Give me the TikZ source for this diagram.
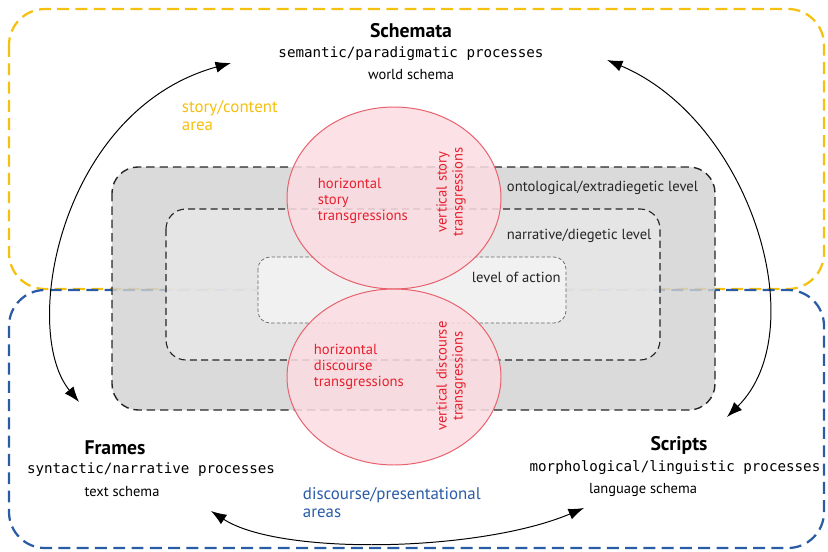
\documentclass[tikz,border=0pt]{standalone}
\usepackage{fontspec}
\setmainfont{PT Sans}
\setmonofont{DejaVu Sans Mono}
\usetikzlibrary{arrows.meta,positioning}

\definecolor{storyyellow}{HTML}{F5C010}
\definecolor{discblue}{HTML}{2A5CA6}
\definecolor{transred}{HTML}{E8202E}
\definecolor{bubbleedge}{HTML}{E8606C}
\definecolor{bubblefill}{HTML}{FCDDE2}

\tikzset{
  area/.style={line width=1.6pt, dash pattern=on 8.5pt off 4.5pt, rounded corners=0.9cm},
  level/.style={draw=black!85, fill opacity=0.8, rounded corners=#1},
  bubble/.style={draw=bubbleedge, fill=bubblefill, fill opacity=0.85, line width=0.7pt},
  trans/.style={text=transred, font=\fontsize{10.4}{11.4}\selectfont, align=left},
  lbl/.style={text=black!85, font=\fontsize{10.4}{11}\selectfont},
  arealbl/.style={font=\fontsize{12}{12.8}\selectfont, align=left, anchor=west},
  head/.style={font=\bfseries\fontsize{14}{16}\selectfont},
  proc/.style={font=\ttfamily\fontsize{10.1}{12}\selectfont},
  sub/.style={font=\fontsize{10.3}{12}\selectfont},
  link/.style={black, line width=0.7pt, {Latex[length=11pt,width=8pt]}-{Latex[length=11pt,width=8pt]}},
}

\begin{document}
\begin{tikzpicture}[x=0.025cm, y=-0.025cm]
    \useasboundingbox (0,0) rectangle (828,552);

    % the two areas
    \draw[area, storyyellow] (9,9) rectangle (824,289);
    \draw[area, discblue]    (9,290) rectangle (824,548);

    % nested levels
    \draw[level=0.65cm, fill=black!18, line width=1pt, dash pattern=on 6pt off 3.5pt] (112,167) rectangle (715,410);
    \draw[level=0.5cm, fill=black!9, line width=0.8pt, dash pattern=on 5pt off 3pt] (166,209) rectangle (660,360);
    \draw[level=0.3cm, fill=black!4, draw=black!60, line width=0.5pt, dash pattern=on 2.5pt off 1.5pt] (258,257) rectangle (566,323);

    % transgression bubbles
    \draw[bubble] (394,198) ellipse [x radius=107, y radius=91];
    \draw[bubble] (394,377) ellipse [x radius=107, y radius=88];

    % headings
    \node[head] (schemata) at (411,31) {Schemata};
    \node[proc] (semproc)  at (411,54) {semantic/paradigmatic processes};
    \node[sub]  (world)    at (411,75) {world schema};

    \node[head] (frames)   at (115,448) {Frames};
    \node[proc] (synproc)  at (151,470) {syntactic/narrative processes};
    \node[sub]  (text)     at (122,492) {text schema};

    \node[head] (scripts)  at (679,445) {Scripts};
    \node[proc] (morproc)  at (675,468) {morphological/linguistic processes};
    \node[sub]  (language) at (643,490) {language schema};

    % area labels
    \node[arealbl, text=storyyellow] (story) at (177,116) {story/content\\area};
    \node[arealbl, text=discblue] (discourse) at (298,503) {discourse/presentational\\areas};

    % level labels
    \node[lbl, anchor=west] (onto) at (502,188) {ontological/extradiegetic level};
    \node[lbl, anchor=west] (narr) at (502,236) {narrative/diegetic level};
    \node[lbl, anchor=west] (act)  at (467,277) {level of action};

    % transgressions
    \node[trans, anchor=west] (hstory) at (313,201) {horizontal\\story\\transgressions};
    \node[trans, rotate=90, align=center] (vstory) at (451,192) {vertical story\\transgressions};
    \node[trans, anchor=west] (hdisc) at (309,367) {horizontal\\discourse\\transgressions};
    \node[trans, rotate=90, align=center] (vdisc) at (451,376) {vertical discourse\\transgressions};

    % arrows between the schemata
    \coordinate (schemaL) at (231,63);
    \coordinate (schemaR) at (607,60);
    \coordinate (frameT)  at (79,402);
    \coordinate (scriptT) at (727,417);
    \coordinate (frameB)  at (211,511);
    \coordinate (scriptB) at (584,508);

    \draw[link] (schemaL) .. controls (60,110) and (20,330) .. (frameT);
    \draw[link] (schemaR) .. controls (750,120) and (815,330) .. (scriptT);
    \draw[link] (frameB) .. controls (280,556) and (480,552) .. (scriptB);
\end{tikzpicture}
\end{document}
